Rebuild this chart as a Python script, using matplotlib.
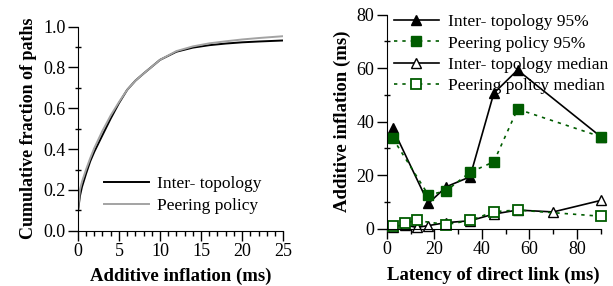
import matplotlib
matplotlib.use("Agg")
import matplotlib.pyplot as plt
from matplotlib.ticker import MultipleLocator

plt.rcParams["font.family"] = ["Liberation Serif", "DejaVu Serif"]

# --- left panel: CDF of additive inflation ---
cdf_x = [0, 0.25, 0.5, 1, 1.5, 2, 3, 4, 5, 6, 7, 8, 10, 12, 14, 16, 18, 20, 22, 25]
inter_cdf = [0.09, 0.17, 0.215, 0.28, 0.34, 0.387, 0.469, 0.55, 0.625, 0.69, 0.735,
             0.77, 0.837, 0.877, 0.897, 0.909, 0.917, 0.923, 0.927, 0.932]
peering_cdf = [0.09, 0.2, 0.24, 0.30, 0.355, 0.405, 0.49, 0.565, 0.63, 0.69, 0.735,
               0.77, 0.837, 0.88, 0.903, 0.918, 0.928, 0.937, 0.944, 0.953]

# --- right panel: inflation vs latency of direct link ---
x95 = [2.5, 17.5, 25, 35, 45, 55, 90]
inter_95 = [37.5, 9.5, 15.7, 19.4, 50.6, 59.3, 34.4]
peering_95 = [33.8, 12.6, 14.2, 21.1, 25.0, 44.7, 34.4]
x_inter_med = [2.5, 7.5, 12.5, 17.5, 25, 35, 45, 55, 70, 90]
inter_med = [0.8, 1.5, 0.5, 1.2, 2.3, 3.0, 5.5, 7.0, 6.3, 10.6]
x_peer_med = [2.5, 7.5, 12.5, 25, 35, 45, 55, 90]
peering_med = [0.9, 2.1, 3.1, 1.6, 3.1, 6.4, 7.0, 4.7]

GREEN = "#005c00"

fig = plt.figure(figsize=(6.13, 2.86), dpi=100)


def style_axes(ax):
    for side in ("top", "right"):
        ax.spines[side].set_visible(False)
    ax.tick_params(which="major", direction="out", length=7.5, width=1, labelsize=13, pad=1.5)
    ax.tick_params(axis="x", which="minor", direction="out", length=3.5, width=1)
    ax.tick_params(axis="y", which="minor", direction="inout", length=5, width=1)


ax1 = fig.add_axes([0.127, 0.193, 0.335, 0.714])
ax1.plot(cdf_x, inter_cdf, color="black", lw=1.4, label="Inter- topology")
ax1.plot(cdf_x, peering_cdf, color="#a3a3a3", lw=1.4, label="Peering policy")
ax1.set_xlim(0, 25)
ax1.set_ylim(0, 1.0)
ax1.xaxis.set_major_locator(MultipleLocator(5))
ax1.xaxis.set_minor_locator(MultipleLocator(1))
ax1.yaxis.set_major_locator(MultipleLocator(0.2))
ax1.yaxis.set_minor_locator(MultipleLocator(0.1))
ax1.yaxis.set_major_formatter(lambda v, p: f"{v:.1f}")
style_axes(ax1)
ax1.set_xlabel("Additive inflation (ms)", fontsize=13.5, fontweight="bold", labelpad=5)
ax1.set_ylabel("Cumulative fraction of paths", fontsize=13, fontweight="bold", labelpad=4)
ax1.legend(loc="lower right", bbox_to_anchor=(0.93, 0.05), frameon=False, fontsize=12.5,
           handlelength=2.6, handletextpad=0.5, labelspacing=0.3, borderaxespad=0)

ax2 = fig.add_axes([0.631, 0.200, 0.349, 0.749])
ax2.plot(x95, inter_95, color="black", lw=1.2, marker="^", ms=6.5, mfc="black",
         mec="black", label="Inter- topology 95%")
ax2.plot(x95, peering_95, color=GREEN, lw=1.2, ls=(0, (2, 3)), marker="s", ms=6.5,
         mfc=GREEN, mec=GREEN, label="Peering policy 95%")
ax2.plot(x_inter_med, inter_med, color="black", lw=1.2, marker="^", ms=6.5, mfc="white",
         mec="black", label="Inter- topology median")
ax2.plot(x_peer_med, peering_med, color=GREEN, lw=1.2, ls=(0, (2, 3)), marker="s", ms=6.5,
         mfc="white", mec=GREEN, mew=1.3, label="Peering policy median")
ax2.set_xlim(0, 90)
ax2.set_ylim(0, 80)
ax2.xaxis.set_major_locator(MultipleLocator(20))
ax2.xaxis.set_minor_locator(MultipleLocator(10))
ax2.yaxis.set_major_locator(MultipleLocator(20))
ax2.yaxis.set_minor_locator(MultipleLocator(10))
for ln in ax2.lines:
    ln.set_clip_on(False)
style_axes(ax2)
ax2.set_xlabel("Latency of direct link (ms)", fontsize=13.5, fontweight="bold", labelpad=6)
ax2.set_ylabel("Additive inflation (ms)", fontsize=13.5, fontweight="bold", labelpad=4)
ax2.legend(loc="upper left", bbox_to_anchor=(0.0, 1.035), frameon=False, fontsize=12.5,
           handlelength=2.6, handletextpad=0.5, labelspacing=0.3, borderaxespad=0)

fig.savefig("out.png", dpi=100)
